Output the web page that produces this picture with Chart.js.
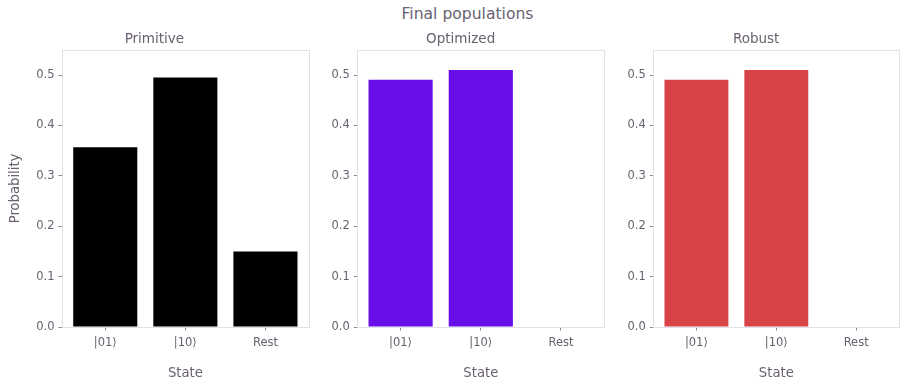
<!DOCTYPE html>
<html>
<head>
<meta charset="utf-8">
<script src="https://cdn.jsdelivr.net/npm/chart.js@4.4.1/dist/chart.umd.min.js"></script>
<style>
    body { margin: 0; background: #fff; }
    #wrap { position: relative; width: 906px; height: 386px; overflow: hidden; }
    #wrap canvas { position: absolute; top: 0; }
    #suptitle {
        position: absolute; left: 0; width: 935px; top: 5px; text-align: center;
        font-family: "DejaVu Sans", sans-serif; font-size: 15.6px; color: #6a6170;
    }
</style>
</head>
<body>
<div id="wrap">
    <div id="suptitle">Final populations</div>
    <canvas id="c1" width="317" height="386" style="left:0px"></canvas>
    <canvas id="c2" width="296" height="386" style="left:317px"></canvas>
    <canvas id="c3" width="293" height="386" style="left:613px"></canvas>
</div>
<script>
const states = ['|01⟩', '|10⟩', 'Rest'];
const primitive = [0.357, 0.495, 0.15];
const optimized = [0.491, 0.51, 0];
const robust = [0.491, 0.51, 0];
const yTicks = [0.0, 0.1, 0.2, 0.3, 0.4, 0.5];

const textColor = '#6a6170';
const tickMarkColor = '#8e8a92';
const frameColor = '#e0e0e6';

// frame around the plot area (matplotlib spines)
const framePlugin = {
    id: 'frame',
    beforeDatasetsDraw(chart) {
        const a = chart.chartArea;
        const ctx = chart.ctx;
        ctx.save();
        ctx.strokeStyle = frameColor;
        ctx.lineWidth = 1;
        ctx.strokeRect(Math.round(a.left) + 0.5, Math.round(a.top) + 0.5,
            Math.round(a.right - a.left), Math.round(a.bottom - a.top));
        ctx.restore();
    }
};

function makePanel(id, title, values, color, yWidth, rightPad, showYTitle) {
    const ctx = document.getElementById(id);
    new Chart(ctx, {
        type: 'bar',
        data: {
            datasets: [{
                data: values.map((v, i) => ({x: i, y: v})),
                backgroundColor: color,
                borderWidth: 0,
                barPercentage: 0.8,
                categoryPercentage: 1.0
            }]
        },
        options: {
            responsive: false,
            animation: false,
            events: [],
            layout: { padding: { left: 0, right: rightPad, top: 0, bottom: 0 } },
            plugins: {
                legend: { display: false },
                tooltip: { enabled: false },
                title: {
                    display: true,
                    text: title,
                    color: textColor,
                    font: { family: 'DejaVu Sans', size: 13.5, weight: 'normal' },
                    padding: { top: 31.5, bottom: 2.2 }
                }
            },
            scales: {
                x: {
                    type: 'linear',
                    offset: false,
                    min: -0.54,
                    max: 2.54,
                    afterBuildTicks: s => { s.ticks = states.map((_, i) => ({value: i})); },
                    afterFit: s => { s.height = 59; },
                    ticks: {
                        color: textColor,
                        font: { family: 'DejaVu Sans', size: 11.5 },
                        padding: 6,
                        autoSkip: false,
                        maxRotation: 0,
                        callback: v => states[v]
                    },
                    grid: { display: true, offset: false, drawOnChartArea: false, drawTicks: true, tickLength: 3.5, color: tickMarkColor },
                    border: { display: false },
                    title: {
                        display: true,
                        text: 'State',
                        color: textColor,
                        font: { family: 'DejaVu Sans', size: 13.2 },
                        padding: { top: 0, bottom: 5 }
                    }
                },
                y: {
                    min: 0,
                    max: 0.55,
                    afterBuildTicks: s => { s.ticks = yTicks.map(v => ({value: v})); },
                    afterFit: s => { s.width = yWidth; },
                    ticks: {
                        color: textColor,
                        font: { family: 'DejaVu Sans', size: 11.5 },
                        padding: 4,
                        callback: v => v.toFixed(1)
                    },
                    grid: { display: true, drawOnChartArea: false, drawTicks: true, tickLength: 3.5, color: tickMarkColor },
                    border: { display: false },
                    title: {
                        display: showYTitle,
                        text: 'Probability',
                        color: textColor,
                        font: { family: 'DejaVu Sans', size: 13.2 },
                        padding: { top: 8, bottom: 0 }
                    }
                }
            }
        },
        plugins: [framePlugin]
    });
}

makePanel('c1', 'Primitive', primitive, '#000000', 62, 8.3, true);
makePanel('c2', 'Optimized', optimized, '#680ee8', 40.3, 8.7, false);
makePanel('c3', 'Robust', robust, '#d74346', 40.3, 6.7, false);
</script>
</body>
</html>
